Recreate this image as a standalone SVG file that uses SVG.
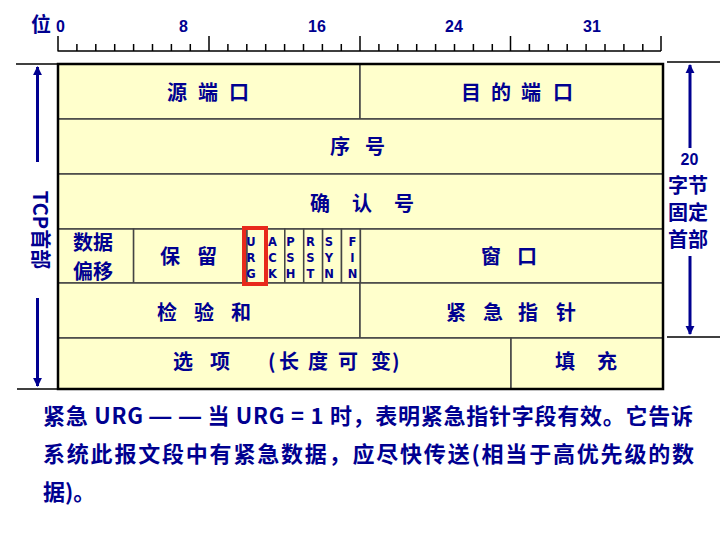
<svg xmlns="http://www.w3.org/2000/svg" width="720" height="540" viewBox="0 0 720 540">
<style>
.lbl{font-family:"Noto Sans CJK SC","Liberation Sans",sans-serif;font-weight:bold;font-size:20px;fill:#000090}
.num{font-family:"Liberation Sans","Noto Sans CJK SC",sans-serif;font-weight:bold;font-size:16px;fill:#000090}
.flag{font-family:"DejaVu Sans","Liberation Sans",sans-serif;font-weight:bold;font-size:11.5px;fill:#000090;text-anchor:middle}
.note{font-family:"Noto Sans CJK SC","Liberation Sans",sans-serif;font-weight:bold;font-size:22px;fill:#000090}
.cell{fill:#FFFFCC;stroke:#444;stroke-width:1.5}
.rule{stroke:#000;stroke-width:1.5;fill:none}
.arr{stroke:#000090;stroke-width:3;fill:none}
.side{stroke:#000;stroke-width:1.5}
</style>
<defs>
<marker id="ah" viewBox="0 0 10 10" refX="9" refY="5" markerWidth="3" markerHeight="5" markerUnits="strokeWidth" orient="auto">
<path d="M0,0 L10,5 L0,10 z" fill="#000090"/>
</marker>
</defs>

<g id="ruler">
<text class="lbl" x="31" y="32" font-size="19">位</text>
<text class="num" x="60.5" y="32" text-anchor="middle">0</text>
<text class="num" x="183.5" y="32" text-anchor="middle">8</text>
<text class="num" x="317" y="32" text-anchor="middle">16</text>
<text class="num" x="454" y="32" text-anchor="middle">24</text>
<text class="num" x="592" y="32" text-anchor="middle">31</text>
<path class="rule" d="M57.5,51 H661 M58,36 V51 M209,36 V51 M360,36 V51 M510.5,36 V51 M661,36 V51
M76.9,44 V51 M95.8,44 V51 M114.7,44 V51 M133.6,44 V51 M152.5,44 V51 M171.4,44 V51 M190.3,44 V51
M227.9,44 V51 M246.8,44 V51 M265.7,44 V51 M284.6,44 V51 M303.5,44 V51 M322.4,44 V51 M341.3,44 V51
M378.9,44 V51 M397.8,44 V51 M416.7,44 V51 M435.6,44 V51 M454.5,44 V51 M473.4,44 V51 M492.3,44 V51
M529.4,44 V51 M548.3,44 V51 M567.2,44 V51 M586.1,44 V51 M605,44 V51 M623.9,44 V51 M642.8,44 V51"/>
</g>

<g id="src-port"><rect class="cell" x="58" y="64" width="302" height="55"/>
<text class="lbl" x="167 198 229" y="100">源端口</text></g>
<g id="dst-port"><rect class="cell" x="360" y="64" width="303" height="55"/>
<text class="lbl" x="461 491 521 553" y="100">目的端口</text></g>
<g id="seq"><rect class="cell" x="58" y="119" width="605" height="55"/>
<text class="lbl" x="330 365" y="154">序号</text></g>
<g id="ack"><rect class="cell" x="58" y="174" width="605" height="55"/>
<text class="lbl" x="310 352 394" y="210.5">确认号</text></g>
<g id="offset"><rect class="cell" x="58" y="229" width="75.6" height="54"/>
<text class="lbl" x="93" y="250" font-size="19" text-anchor="middle">数据</text>
<text class="lbl" x="93" y="279" font-size="19" text-anchor="middle">偏移</text></g>
<g id="reserved"><rect class="cell" x="133.6" y="229" width="113.4" height="54"/>
<text class="lbl" x="160 197" y="264">保留</text></g>
<g id="flags">
<rect class="cell" x="247" y="229" width="18.9" height="54"/>
<rect class="cell" x="265.9" y="229" width="18.9" height="54"/>
<rect class="cell" x="284.8" y="229" width="18.9" height="54"/>
<rect class="cell" x="303.7" y="229" width="18.9" height="54"/>
<rect class="cell" x="322.6" y="229" width="18.9" height="54"/>
<rect class="cell" x="341.5" y="229" width="18.9" height="54"/>
<text class="flag" x="251" y="246">U</text><text class="flag" x="251" y="262">R</text><text class="flag" x="251" y="278">G</text>
<text class="flag" x="272.5" y="246">A</text><text class="flag" x="272.5" y="262">C</text><text class="flag" x="272.5" y="278">K</text>
<text class="flag" x="290.5" y="246">P</text><text class="flag" x="290.5" y="262">S</text><text class="flag" x="290.5" y="278">H</text>
<text class="flag" x="310.5" y="246">R</text><text class="flag" x="310.5" y="262">S</text><text class="flag" x="310.5" y="278">T</text>
<text class="flag" x="329" y="246">S</text><text class="flag" x="329" y="262">Y</text><text class="flag" x="329" y="278">N</text>
<text class="flag" x="352.5" y="246">F</text><text class="flag" x="352.5" y="262">I</text><text class="flag" x="352.5" y="278">N</text>
</g>
<g id="window"><rect class="cell" x="360.4" y="229" width="302.6" height="54"/>
<text class="lbl" x="481 517" y="264">窗口</text></g>
<g id="checksum"><rect class="cell" x="58" y="283" width="302" height="55"/>
<text class="lbl" x="157 194 231" y="320">检验和</text></g>
<g id="urgent-ptr"><rect class="cell" x="360" y="283" width="303" height="55"/>
<text class="lbl" x="446 483 518 556" y="320">紧急指针</text></g>
<g id="options"><rect class="cell" x="58" y="338" width="453" height="51"/>
<text class="lbl" x="173 210 268 279 308 338 371 392" y="369">选项(长度可变)</text></g>
<g id="padding"><rect class="cell" x="511" y="338" width="152" height="51"/>
<text class="lbl" x="555 597" y="369">填充</text></g>
<rect id="outline" x="58" y="64" width="605" height="325" fill="none" stroke="#000" stroke-width="2.5"/>
<rect id="urg-highlight" x="244" y="228" width="22" height="56" fill="none" stroke="#E8291C" stroke-width="4"/>

<g id="left-label">
<text class="lbl" x="0" y="0" transform="translate(33,230) rotate(90)" text-anchor="middle">TCP首部</text>
</g>
<g id="right-label">
<text class="num" x="689.5" y="165" text-anchor="middle" font-size="17">20</text>
<text class="lbl" x="688" y="193" text-anchor="middle" font-size="18.5">字节</text>
<text class="lbl" x="688" y="220" text-anchor="middle" font-size="18.5">固定</text>
<text class="lbl" x="688" y="247" text-anchor="middle" font-size="18.5">首部</text>
</g>

<g id="connectors">
<line class="side" x1="16" y1="64" x2="58" y2="64"/>
<line class="side" x1="17" y1="389" x2="58" y2="389"/>
<line class="side" x1="667" y1="62" x2="720" y2="62"/>
<line class="side" x1="667" y1="337" x2="720" y2="337"/>
<line class="arr" x1="37.5" y1="162" x2="37.5" y2="67" marker-end="url(#ah)"/>
<line class="arr" x1="37.5" y1="298" x2="37.5" y2="386" marker-end="url(#ah)"/>
<line class="arr" x1="690" y1="148" x2="690" y2="65" marker-end="url(#ah)"/>
<line class="arr" x1="690" y1="256" x2="690" y2="334" marker-end="url(#ah)"/>
</g>

<g id="note">
<text class="note" x="43" y="424" textLength="650" lengthAdjust="spacing">紧急 URG <tspan font-family="Liberation Sans">— —</tspan> 当 URG = 1 时，表明紧急指针字段有效。它告诉</text>
<text class="note" x="43" y="462" textLength="651" lengthAdjust="spacing">系统此报文段中有紧急数据，应尽快传送(相当于高优先级的数</text>
<text class="note" x="43" y="500">据)。</text>
</g>
</svg>
